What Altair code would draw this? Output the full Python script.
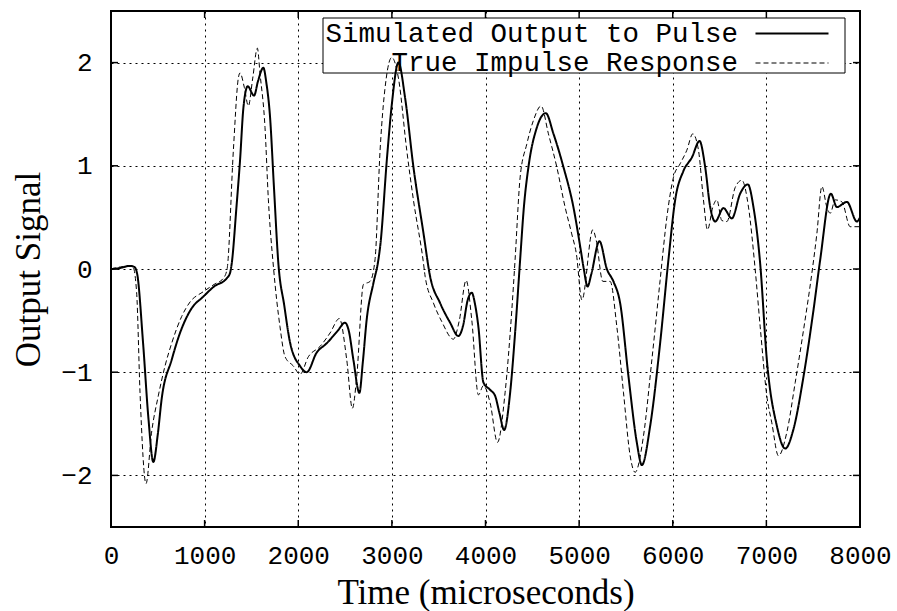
import altair as alt
import pandas as pd

# Simulated Output to Pulse (solid)
sim_t = [0, 100, 200, 250, 280, 342, 400, 452, 500, 541, 648, 737, 862, 983, 1100, 1236, 1271,
         1289, 1340, 1378, 1414, 1460, 1528, 1570, 1627, 1660, 1699, 1740, 1788, 1850, 1912,
         2019, 2090, 2197, 2304, 2420, 2500, 2540, 2589, 2653, 2690, 2731, 2802, 2856, 2874,
         2950, 3000, 3070, 3141, 3230, 3337, 3408, 3515, 3622, 3710, 3760, 3810, 3853, 3890,
         3924, 3978, 4049, 4103, 4150, 4199, 4263, 4316, 4370, 4410, 4459, 4548, 4644, 4726,
         4832, 4939, 5011, 5050, 5090, 5130, 5217, 5296, 5366, 5438, 5527, 5616, 5670, 5759,
         5865, 5954, 6026, 6114, 6204, 6286, 6346, 6400, 6453, 6542, 6631, 6720, 6802, 6862,
         6934, 7005, 7112, 7201, 7290, 7397, 7503, 7575, 7689, 7753, 7860, 7967, 8000]
sim_v = [0.0, 0.01, 0.03, 0.02, -0.05, -0.71, -1.45, -1.87, -1.6, -1.26, -0.88, -0.62, -0.38, -0.27,
         -0.17, -0.09, -0.04, 0.05, 0.6, 1.05, 1.56, 1.77, 1.68, 1.82, 1.95, 1.8, 1.47, 0.8, 0.05,
         -0.35, -0.71, -0.94, -1.0, -0.81, -0.72, -0.6, -0.52, -0.6, -0.88, -1.2, -0.9, -0.49,
         -0.14, 0.09, 0.21, 1.1, 1.6, 2.0, 1.66, 0.99, 0.35, -0.07, -0.33, -0.52, -0.65, -0.55,
         -0.3, -0.23, -0.35, -0.56, -1.10, -1.17, -1.23, -1.4, -1.56, -1.2, -0.62, 0.09, 0.6,
         0.99, 1.37, 1.51, 1.31, 0.99, 0.6, 0.22, 0.0, -0.17, -0.05, 0.27, 0.0, -0.12, -0.33,
         -1.04, -1.68, -1.90, -1.52, -0.72, 0.09, 0.67, 0.95, 1.08, 1.24, 0.99, 0.6, 0.46, 0.59,
         0.49, 0.73, 0.82, 0.6, 0.05, -0.88, -1.52, -1.74, -1.55, -1.04, -0.40, 0.09, 0.73, 0.6,
         0.65, 0.46, 0.5]

# True Impulse Response (dashed)
true_t = [0, 100, 200, 235, 274, 310, 374, 434, 505, 577, 648, 755, 844, 986, 1100, 1200, 1240,
          1307, 1360, 1378, 1424, 1467, 1514, 1563, 1592, 1645, 1681, 1735, 1805, 1859, 1948,
          2019, 2108, 2233, 2340, 2439, 2518, 2578, 2625, 2696, 2767, 2820, 2874, 2940, 2999,
          3070, 3159, 3230, 3337, 3355, 3444, 3533, 3657, 3720, 3793, 3853, 3924, 3978, 4050,
          4128, 4209, 4281, 4316, 4370, 4441, 4512, 4594, 4672, 4761, 4850, 4921, 4970, 5030,
          5146, 5182, 5253, 5331, 5403, 5474, 5545, 5598, 5687, 5777, 5865, 5937, 6008, 6079,
          6150, 6214, 6275, 6328, 6371, 6428, 6471, 6524, 6578, 6667, 6738, 6809, 6880, 6934,
          7005, 7058, 7129, 7219, 7308, 7397, 7486, 7539, 7593, 7646, 7682, 7735, 7807, 7895, 8000]
true_v = [0.0, 0.02, 0.03, 0.02, -0.23, -1.2, -2.08, -1.58, -1.23, -0.94, -0.72, -0.46, -0.32,
          -0.22, -0.15, -0.09, 0.0, 1.15, 1.85, 1.90, 1.76, 1.58, 1.85, 2.14, 1.89, 1.37, 0.67,
          0.02, -0.56, -0.85, -0.94, -1.02, -0.85, -0.75, -0.62, -0.48, -0.88, -1.35, -1.04,
          -0.15, -0.12, 0.09, 1.15, 1.85, 2.05, 1.85, 1.15, 0.67, 0.06, -0.07, -0.33, -0.51,
          -0.68, -0.5, -0.11, -0.49, -1.22, -1.13, -1.3, -1.68, -1.20, -0.40, 0.09, 0.89, 1.21,
          1.44, 1.58, 1.31, 0.99, 0.6, 0.34, 0.15, -0.3, 0.38, 0.28, -0.12, -0.12, -0.56, -1.2,
          -1.81, -1.97, -1.62, -0.88, -0.11, 0.50, 0.89, 1.02, 1.15, 1.31, 1.15, 0.67, 0.38, 0.60,
          0.67, 0.47, 0.46, 0.79, 0.86, 0.6, 0.0, -0.56, -1.23, -1.49, -1.81, -1.58, -1.10, -0.59,
          -0.04, 0.34, 0.80, 0.60, 0.54, 0.67, 0.65, 0.41, 0.41]

series_names = ["Simulated Output to Pulse", "True Impulse Response"]
x_ticks = [0, 1000, 2000, 3000, 4000, 5000, 6000, 7000, 8000]
y_ticks = [-2, -1, 0, 1, 2]

W, H = 749, 516

df = pd.concat([
    pd.DataFrame({"time": sim_t, "signal": sim_v, "series": series_names[0]}),
    pd.DataFrame({"time": true_t, "signal": true_v, "series": series_names[1]}),
])
xt = pd.DataFrame({"time": x_ticks[1:-1]})
yt = pd.DataFrame({"signal": y_ticks})
box = pd.DataFrame({"key": ["legend box"]})

xscale = alt.Scale(domain=[0, 8000], nice=False, zero=False)
yscale = alt.Scale(domain=[-2.5, 2.5], nice=False, zero=False)

# white key box (hides the grid behind the legend, as in the reference)
legend_box = alt.Chart(box).mark_rect(fill="white", stroke="black", strokeWidth=1).encode(
    x=alt.value(212), x2=alt.value(734), y=alt.value(7), y2=alt.value(62))

lines = alt.Chart(df).mark_line(interpolate="monotone", color="black").encode(
    x=alt.X("time:Q", scale=xscale,
            axis=alt.Axis(values=x_ticks, format="d", labelOverlap=False, labelFlush=False,
                          title="Time (microseconds)", titleY=76,
                          titleBaseline="alphabetic", labelPadding=15)),
    y=alt.Y("signal:Q", scale=yscale,
            axis=alt.Axis(values=y_ticks, format="d", labelOverlap=False,
                          title="Output Signal", titleX=-72, titleY=H / 2,
                          titleAngle=270, titleAlign="center", titleBaseline="alphabetic",
                          labelPadding=19)),
    strokeDash=alt.StrokeDash("series:N", title=None,
                              scale=alt.Scale(domain=series_names, range=[[1, 0], [5, 3]])),
    strokeWidth=alt.StrokeWidth("series:N", title=None,
                                scale=alt.Scale(domain=series_names, range=[2, 1])),
)

tick_style = dict(color="black", strokeWidth=1.5)
bottom_ticks = alt.Chart(xt).mark_rule(**tick_style).encode(
    x=alt.X("time:Q", scale=xscale), y=alt.value(H), y2=alt.value(H - 7))
top_ticks = alt.Chart(xt).mark_rule(**tick_style).encode(
    x=alt.X("time:Q", scale=xscale), y=alt.value(0), y2=alt.value(7))
left_ticks = alt.Chart(yt).mark_rule(**tick_style).encode(
    y=alt.Y("signal:Q", scale=yscale), x=alt.value(0), x2=alt.value(7))
right_ticks = alt.Chart(yt).mark_rule(**tick_style).encode(
    y=alt.Y("signal:Q", scale=yscale), x=alt.value(W), x2=alt.value(W - 7))

chart = alt.layer(legend_box, lines, bottom_ticks, top_ticks, left_ticks, right_ticks).properties(
    width=W, height=H,
    autosize=alt.AutoSizeParams(type="none"),
    padding={"left": 111, "top": 11, "right": 37, "bottom": 84},
    background="white",
).configure_view(
    stroke="black", strokeWidth=2
).configure_axis(
    domain=False, ticks=False, tickSize=0, grid=True, gridColor="black", gridDash=[2, 4],
    gridWidth=1, gridOpacity=1,
    labelFont="Liberation Mono", labelFontSize=26, labelColor="black",
    titleFont="Liberation Serif", titleFontSize=35, titleFontWeight="normal", titleColor="black",
).configure_legend(
    orient="none", legendX=665, legendY=6.5,
    symbolType="M-2.5,0H2.5", symbolSize=853, symbolStrokeColor="black",
    labelFont="Liberation Mono", labelFontSize=27.5, labelColor="black",
    labelAlign="right", labelOffset={"expr": "-70"}, labelLimit=1000,
    padding=0, rowPadding=0,
)

chart.save("out.html", embed_options={"renderer": "svg", "actions": False})
